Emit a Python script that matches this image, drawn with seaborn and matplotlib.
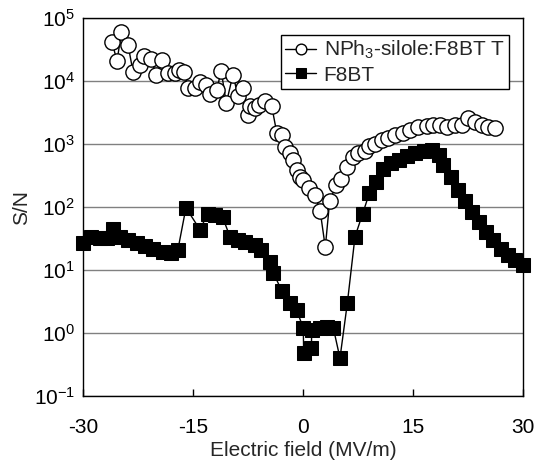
import numpy as np
import pandas as pd
import matplotlib
matplotlib.use("Agg")
import matplotlib.pyplot as plt
import matplotlib.ticker as mticker
import seaborn as sns

# NPh3-silole:F8BT (open circles)
silole_x = [-26.1, -25.4, -24.8, -23.9, -23.2, -22.3, -21.7, -20.7, -20.1, -19.2,
            -18.5, -17.5, -17.0, -16.3, -15.7, -14.8, -14.1, -13.2, -12.7, -11.8,
            -11.2, -10.5, -9.6, -8.9, -8.2, -7.5, -7.2, -6.6, -6.1, -5.2,
            -4.3, -3.6, -2.9, -2.5, -1.8, -1.4, -0.9, -0.5, 0.0, 0.8,
            1.6, 2.3, 3.0, 3.6, 4.5, 5.2, 6.0, 6.8, 7.5, 8.4,
            8.9, 9.8, 10.7, 11.6, 12.5, 13.6, 14.6, 15.7, 16.8, 17.7,
            18.6, 19.6, 20.7, 21.6, 22.5, 23.4, 24.3, 25.2, 26.1]
silole_sn = [42700, 20900, 60300, 38000, 13800, 18200, 25100, 22900, 12600, 21900,
             13500, 13500, 15100, 14100, 7900, 7760, 9800, 8700, 6300, 7200,
             14800, 4470, 12600, 5900, 7900, 2950, 3980, 3700, 4200, 4800,
             3980, 1480, 1410, 910, 720, 560, 390, 300, 270, 200,
             155, 87, 23, 126, 224, 275, 427, 617, 724, 794,
             933, 1020, 1150, 1260, 1380, 1480, 1660, 1860, 1950, 2040,
             2000, 1900, 2000, 2000, 2570, 2240, 2000, 1900, 1780]

# F8BT (filled squares)
f8bt_x = [-30.0, -28.9, -27.7, -26.8, -26.0, -25.0, -23.9, -22.7, -21.6, -20.5,
          -19.1, -18.0, -17.1, -16.0, -14.1, -13.0, -12.0, -11.0, -10.0, -8.9,
          -7.9, -6.6, -5.7, -4.6, -4.1, -2.9, -1.8, -0.9, 0.0, 0.05,
          1.1, 1.15, 2.3, 3.2, 4.1, 5.0, 6.0, 7.05, 8.1, 9.0,
          9.9, 10.9, 12.0, 13.1, 14.1, 15.2, 16.4, 17.5, 18.5, 19.1,
          20.1, 21.1, 22.0, 23.0, 23.9, 24.9, 25.9, 26.9, 27.9, 28.9, 30.0]
f8bt_sn = [27, 34, 32, 32, 45, 34, 30, 27, 24, 22,
           19.5, 18.6, 21, 98, 44, 79, 76, 69, 34, 30,
           28, 25, 21, 13.5, 9.1, 4.6, 2.95, 2.3, 1.2, 0.48,
           0.575, 1.12, 1.2, 1.26, 1.2, 0.4, 2.95, 34, 79, 166,
           250, 400, 500, 560, 650, 720, 790, 810, 680, 470,
           300, 186, 123, 85, 59, 41, 30, 22, 17.4, 14.5, 12]

xticks = [-30, -15, 0, 15, 30]
yticks = [1e-1, 1e0, 1e1, 1e2, 1e3, 1e4, 1e5]

sns.set_style("white")
plt.rcParams["font.family"] = ["Liberation Sans", "DejaVu Sans"]
plt.rcParams["mathtext.fontset"] = "custom"
plt.rcParams["mathtext.rm"] = "Liberation Sans"
plt.rcParams["mathtext.it"] = "Liberation Sans"

df_s = pd.DataFrame({"E": silole_x, "SN": silole_sn})
df_f = pd.DataFrame({"E": f8bt_x, "SN": f8bt_sn})

fig = plt.figure(figsize=(5.38, 4.63), dpi=100)
ax = fig.add_axes([0.1548, 0.1447, 0.8179, 0.8158])

sns.lineplot(data=df_s, x="E", y="SN", ax=ax, sort=False, estimator=None,
             color="black", lw=1, marker="o", markersize=11,
             markerfacecolor="white", markeredgecolor="black", markeredgewidth=1,
             label="NPh$_3$-silole:F8BT T", clip_on=False, zorder=3)
sns.lineplot(data=df_f, x="E", y="SN", ax=ax, sort=False, estimator=None,
             color="black", lw=1, marker="s", markersize=9.5,
             markerfacecolor="black", markeredgecolor="black",
             label="F8BT", clip_on=False, zorder=4)

ax.set_yscale("log")
ax.set_ylim(0.1, 1e5)
ax.set_xlim(-30, 30)
ax.set_xticks(xticks)
ax.set_xticklabels([str(t) for t in xticks])
ax.yaxis.set_major_locator(mticker.FixedLocator(yticks))
ax.yaxis.set_major_formatter(mticker.LogFormatterSciNotation())
ax.yaxis.set_minor_locator(mticker.NullLocator())
ax.grid(axis="y", color="#808080", lw=1)
ax.grid(axis="x", visible=False)
ax.set_axisbelow(True)

for s in ax.spines.values():
    s.set_color("black")
    s.set_linewidth(1)

ax.tick_params(axis="x", direction="in", length=5, width=1, pad=16,
               labelsize=15, colors="black", top=False, bottom=True)
ax.tick_params(axis="y", length=0, pad=6, labelsize=15, colors="black")

ax.set_xlabel("Electric field (MV/m)", fontsize=15, labelpad=3)
ax.set_ylabel("S/N", fontsize=15, labelpad=2)

leg = ax.legend(loc="upper left", bbox_to_anchor=(0.449, 0.956), fontsize=15,
                frameon=True, fancybox=False, shadow=False, handlelength=1.5,
                handletextpad=0.35, borderpad=0.2, labelspacing=0.2,
                borderaxespad=0, markerscale=0.7)
leg.get_frame().set_edgecolor("black")
leg.get_frame().set_linewidth(1)
leg.get_frame().set_alpha(1)

fig.savefig("out.png", dpi=100)
